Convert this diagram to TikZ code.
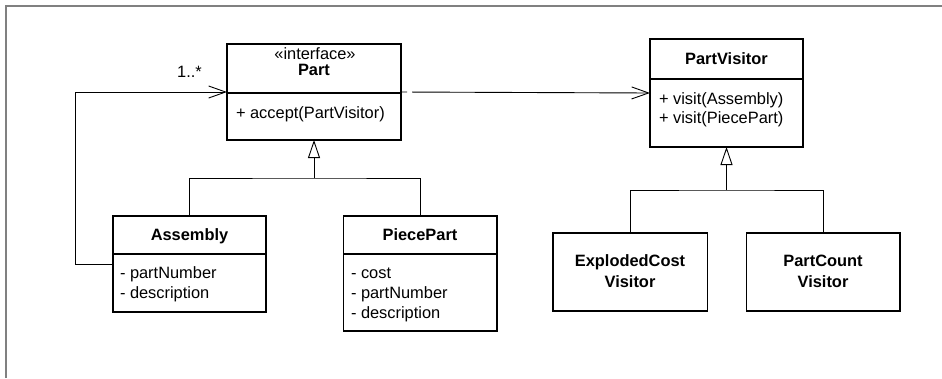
\documentclass[tikz,border=0pt]{standalone}
\usepackage{fontspec}
\setmainfont{Liberation Sans}
\usetikzlibrary{arrows.meta}
\begin{document}
\begin{tikzpicture}[x=1pt,y=-1pt,
  every node/.style={inner sep=0pt, outer sep=0pt, font=\fontsize{16.4}{20}\selectfont, text height=11.5pt, text depth=0pt},
  cls/.style={draw, line width=1.3pt, anchor=north west},
  vis/.style={draw, line width=1.8pt, anchor=north west},
  divider/.style={line width=1.1pt},
  conn/.style={line width=0.9pt},
  assoc/.style={conn, -{Straight Barb[length=17pt, width=12pt, line width=0.9pt]}},
  gen/.style={conn, -{Triangle[open, length=18pt, width=12pt, line width=0.9pt, fill=white]}},
  bold/.style={font=\fontsize{16.4}{20}\selectfont\bfseries},
  lefttext/.style={anchor=west}]
\useasboundingbox (0,0) rectangle (942,378);
% frame
\draw[color={rgb,255:red,128;green,128;blue,128}, line width=2pt] (6,378) -- (6,6) -- (942,6);

% class boxes
\node[cls, minimum width=174pt, minimum height=96pt] (part) at (227,44) {};
\node[cls, minimum width=153pt, minimum height=108pt] (pv) at (650,39) {};
\node[cls, minimum width=153pt, minimum height=96pt] (asm) at (113,216) {};
\node[cls, minimum width=153.5pt, minimum height=115pt] (pp) at (343.5,216) {};
\node[vis, minimum width=154.5pt, minimum height=78pt] (ecv) at (553,233) {};
\node[vis, minimum width=153.5pt, minimum height=78pt] (pcv) at (746.5,233) {};

% dividers
\draw[divider] (part.west |- 0,93) -- (part.east |- 0,93);
\draw[divider] (pv.west |- 0,79) -- (pv.east |- 0,79);
\draw[divider] (asm.west |- 0,254) -- (asm.east |- 0,254);
\draw[divider] (pp.west |- 0,254) -- (pp.east |- 0,254);

% texts
\node[text height=10pt] (partst) at (315,54.5) {«interface»};
\node[bold] (partname) at (314,69.5) {Part};
\node[lefttext] (partop) at (236,113) {+ accept(PartVisitor)};

\node[bold] (pvname) at (726.5,59) {PartVisitor};
\node[lefttext] (pvop1) at (659,99) {+ visit(Assembly)};
\node[lefttext] (pvop2) at (659,118) {+ visit(PiecePart)};

\node[bold] (asmname) at (189.5,235) {Assembly};
\node[lefttext] (asma1) at (120,273) {- partNumber};
\node[lefttext] (asma2) at (120,293) {- description};

\node[bold] (ppname) at (420,235) {PiecePart};
\node[lefttext] (ppa1) at (351,273) {- cost};
\node[lefttext] (ppa2) at (351,293) {- partNumber};
\node[lefttext] (ppa3) at (351,313) {- description};

\node[bold] (ecv1) at (630,261) {ExplodedCost};
\node[bold] (ecv2) at (630,282) {Visitor};
\node[bold] (pcv1) at (823,261) {PartCount};
\node[bold] (pcv2) at (823,282) {Visitor};

% associations
\draw[assoc] (asm.west) -- ++(-38,0) |- (part.west);
\node (mult) at (189.5,72) {1..*};
\draw[assoc, dash pattern=on 6pt off 5pt on 400pt] (part.east) -- (pv.west);

% generalizations
\coordinate (j1) at (314,178);
\draw[conn] (asm.north) |- (j1) -| (pp.north);
\draw[gen] (j1) -- (part.south);
\coordinate (j2) at (726.5,190);
\draw[conn] (ecv.north) |- (j2) -| (pcv.north);
\draw[gen] (j2) -- (pv.south);
\end{tikzpicture}
\end{document}
